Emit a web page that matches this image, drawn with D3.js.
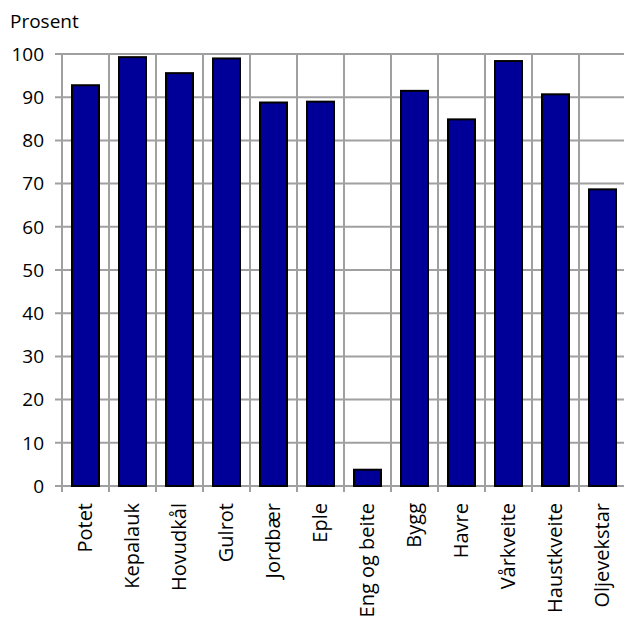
<!DOCTYPE html>
<html><head><meta charset="utf-8">
<script src="https://cdn.jsdelivr.net/npm/d3@7"></script>
<style>body{margin:0;background:#fff}svg{display:block}text{font-family:"Open Sans",sans-serif;fill:#000}</style>
</head><body>
<svg id="c" width="624" height="619"></svg>
<script>
const categories = ["Potet","Kepalauk","Hovudkål","Gulrot","Jordbær","Eple","Eng og beite","Bygg","Havre","Vårkveite","Haustkveite","Oljevekstar"];
const values = [93.0, 99.5, 95.8, 99.2, 89.0, 89.2, 4.0, 91.7, 85.1, 98.6, 90.9, 68.9];
const yTicks = [0,10,20,30,40,50,60,70,80,90,100];
const yTitle = "Prosent";

(function(){
const svg = d3.select("#c");
const mL = 62, mR = 626, mT = 54, mB = 486;
const x = d3.scaleBand().domain(categories).range([mL, mR]).paddingInner(0).paddingOuter(0);
const y = d3.scaleLinear().domain([0,100]).range([mB, mT]);
const grid = "#a0a0a0";

svg.append("g").selectAll("line").data(yTicks).join("line")
  .attr("x1", mL-7).attr("x2", mR).attr("y1", d=>y(d)).attr("y2", d=>y(d))
  .attr("stroke", grid).attr("stroke-width", 2);
const bounds = categories.map(c=>x(c)).concat([mR]);
svg.append("g").selectAll("line").data(bounds).join("line")
  .attr("x1", d=>d).attr("x2", d=>d).attr("y1", mT).attr("y2", mB+6)
  .attr("stroke", grid).attr("stroke-width", 2);

const bw = 29;
svg.append("g").selectAll("rect").data(values).join("rect")
  .attr("x", (d,i)=>x(categories[i]) + x.bandwidth()/2 - bw/2 + 1)
  .attr("y", d=>y(d)+1)
  .attr("width", bw-2)
  .attr("height", d=>y(0)-y(d)-1)
  .attr("fill", "#000099").attr("stroke", "#000").attr("stroke-width", 2);

svg.append("g").selectAll("text").data(yTicks).join("text")
  .attr("x", 44).attr("y", d=>y(d)).attr("dy", "0.36em")
  .attr("text-anchor", "end").attr("font-size", 19).text(d=>d);

svg.append("text").attr("x", 10).attr("y", 28).attr("font-size", 19).text(yTitle);

svg.append("g").selectAll("text").data(categories).join("text")
  .attr("transform", d=>`translate(${x(d)+x.bandwidth()/2 - 1},503) rotate(-90)`)
  .attr("text-anchor", "end").attr("dy", "0.36em").attr("font-size", 20).text(d=>d);
})();
</script>
</body></html>
